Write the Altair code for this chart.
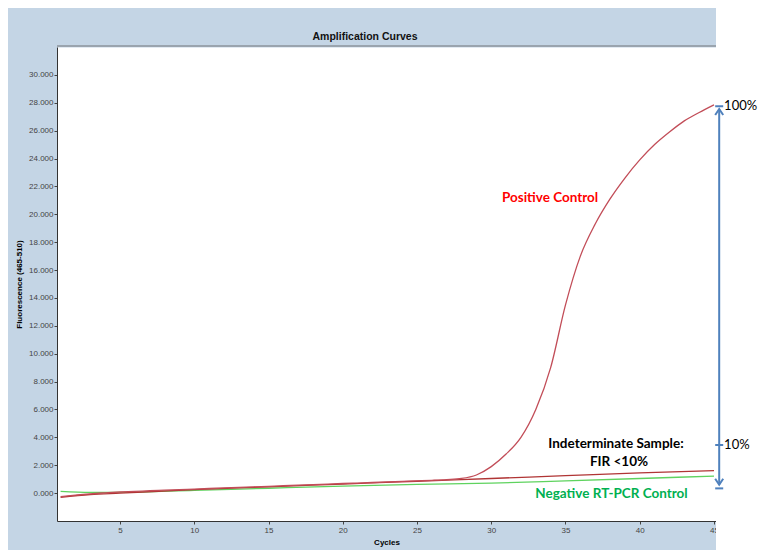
import altair as alt
import pandas as pd

# ---------------- data ----------------
cycles = list(range(1, 46))
positive = [-0.25, -0.15, -0.05, 0.02, 0.08, 0.12, 0.17, 0.21, 0.25, 0.29,
            0.33, 0.37, 0.41, 0.45, 0.49, 0.53, 0.57, 0.61, 0.65, 0.69,
            0.72, 0.76, 0.80, 0.84, 0.88, 0.92, 0.97, 1.05, 1.30, 1.90,
            2.80, 4.00, 6.00, 9.00, 13.50, 17.00, 19.30, 21.10, 22.60, 23.90,
            25.00, 25.90, 26.70, 27.30, 27.85]

sample_cycles = [1, 3, 5, 10, 15, 20, 25, 30, 35, 40, 45]
indeterminate = [-0.30, -0.10, 0.00, 0.25, 0.45, 0.65, 0.85, 1.05, 1.25, 1.45, 1.62]
negative = [0.12, 0.05, 0.05, 0.20, 0.35, 0.50, 0.62, 0.72, 0.88, 1.05, 1.22]

series_names = ["Negative RT-PCR Control", "Indeterminate Sample", "Positive Control"]
series_colors = ["#5fd35f", "#b03535", "#c24d58"]

x_ticks = [5, 10, 15, 20, 25, 30, 35, 40, 45]
y_ticks = [0, 2, 4, 6, 8, 10, 12, 14, 16, 18, 20, 22, 24, 26, 28, 30]

# annotation texts
label_text = ["Positive Control", "Indeterminate Sample:", "FIR <10%", "Negative RT-PCR Control"]
label_color = ["#ff0000", "#000000", "#000000", "#00b050"]
label_cycle = [33.96, 38.4, 38.6, 38.1]
label_value = [21.18, 3.52, 2.25, -0.07]

pct_text = ["100%", "10%"]
pct_value = [27.75, 3.45]
bracket_ticks = [27.75, 3.45, 0.34]

# ---------------- frames ----------------
rows = []
for c, v in zip(sample_cycles, negative):
    rows.append({"cycle": c, "value": v, "series": series_names[0]})
for c, v in zip(sample_cycles, indeterminate):
    rows.append({"cycle": c, "value": v, "series": series_names[1]})
for c, v in zip(cycles, positive):
    rows.append({"cycle": c, "value": v, "series": series_names[2]})
df = pd.DataFrame(rows)

labels_df = pd.DataFrame({"text": label_text, "color": label_color,
                          "cycle": label_cycle, "value": label_value})
pct_df = pd.DataFrame({"text": pct_text, "value": pct_value, "cycle": [45.68, 45.68]})
ticks_df = pd.DataFrame({"value": bracket_ticks, "c0": 45.08, "c1": 45.62})
vline_df = pd.DataFrame({"cycle": [45.35], "v0": [0.6], "v1": [27.55]})
head_up_df = pd.DataFrame({"cycle": [45.35], "value": [27.55]})
head_dn_df = pd.DataFrame({"cycle": [45.35], "value": [0.6]})
one = pd.DataFrame({"k": [0]})

PLOT_W, PLOT_H = 659, 474
x_scale = alt.Scale(domain=[0.757, 45.135], nice=False, zero=False)
y_scale = alt.Scale(domain=[-2, 32], nice=False, zero=False)

FONT = "Liberation Sans"
BLUE = "#4f81bd"

x_axis = alt.Axis(values=x_ticks, title="Cycles", grid=False,
                  labelFont=FONT, labelFontSize=8, labelColor="#444444",
                  labelPadding=2, labelFlush=False, labelOverlap=False,
                  tickSize=3, tickColor="#444444", domainColor="#333333",
                  titleFont=FONT, titleFontSize=8, titleFontWeight="bold",
                  titleColor="#000000", titleY=23, titleBaseline="alphabetic")
y_axis = alt.Axis(values=y_ticks, format=".3f", title="Fluorescence (465-510)",
                  grid=False, labelFont=FONT, labelFontSize=8,
                  labelColor="#444444", labelPadding=1, labelFlush=False,
                  labelOverlap=False,
                  tickSize=3, tickColor="#444444", domainColor="#333333",
                  titleFont=FONT, titleFontSize=8, titleFontWeight="bold",
                  titleColor="#000000", titleX=-34, titleY=237,
                  titleAngle=270, titleAlign="center", titleBaseline="bottom")


def X(field):
    return alt.X(field, scale=x_scale, axis=x_axis)


def Y(field):
    return alt.Y(field, scale=y_scale, axis=y_axis)


lines = alt.Chart(df).mark_line(strokeWidth=1.3, interpolate="monotone").encode(
    x=X("cycle:Q"),
    y=Y("value:Q"),
    color=alt.Color("series:N", scale=alt.Scale(domain=series_names, range=series_colors),
                    legend=None),
    order=alt.Order("series:N"),
)

top_border = alt.Chart(one).mark_rule(color="#9aa4ae", strokeWidth=2).encode(
    x=alt.value(0), x2=alt.value(PLOT_W), y=alt.value(-1))

right_cover = alt.Chart(one).mark_rect(color="white").encode(
    x=alt.value(PLOT_W), x2=alt.value(PLOT_W + 60), y=alt.value(-39), y2=alt.value(PLOT_H + 29))

title = alt.Chart(one).mark_text(text="Amplification Curves", font=FONT, fontSize=10.5,
                                 fontWeight="bold", color="#111111",
                                 align="center", baseline="middle").encode(
    x=alt.value(308), y=alt.value(-10))

labels = alt.Chart(labels_df).mark_text(font="Lato", fontSize=13.5, fontWeight="bold",
                                        align="center", baseline="middle").encode(
    x=X("cycle:Q"),
    y=Y("value:Q"),
    text="text:N",
    color=alt.Color("color:N", scale=None),
)

pct = alt.Chart(pct_df).mark_text(font="Lato", fontSize=13, align="left",
                                  baseline="middle", color="#000000").encode(
    x=X("cycle:Q"),
    y=Y("value:Q"),
    text="text:N",
)

bticks = alt.Chart(ticks_df).mark_rule(color=BLUE, strokeWidth=2).encode(
    x=X("c0:Q"), x2="c1:Q",
    y=Y("value:Q"))

vline = alt.Chart(vline_df).mark_rule(color=BLUE, strokeWidth=2).encode(
    x=X("cycle:Q"),
    y=Y("v0:Q"), y2="v1:Q")

head_up = alt.Chart(head_up_df).mark_point(shape="M-1,1.5L0,0L1,1.5", filled=False,
                                           color=BLUE, strokeWidth=2, size=64, opacity=1).encode(
    x=X("cycle:Q"),
    y=Y("value:Q"))

head_dn = alt.Chart(head_dn_df).mark_point(shape="M-1,-1.5L0,0L1,-1.5", filled=False,
                                           color=BLUE, strokeWidth=2, size=64, opacity=1).encode(
    x=X("cycle:Q"),
    y=Y("value:Q"))

chart = alt.layer(
    lines, top_border, right_cover, title, labels, pct, bticks, vline, head_up, head_dn
).properties(
    width=PLOT_W, height=PLOT_H,
    padding={"left": 49, "top": 39, "right": 42, "bottom": 29},
    autosize=alt.AutoSizeParams(type="none"),
    background="#c4d5e5",
).configure_view(fill="white", stroke="transparent")

chart.save("out.html", embed_options={"renderer": "svg", "actions": False})
